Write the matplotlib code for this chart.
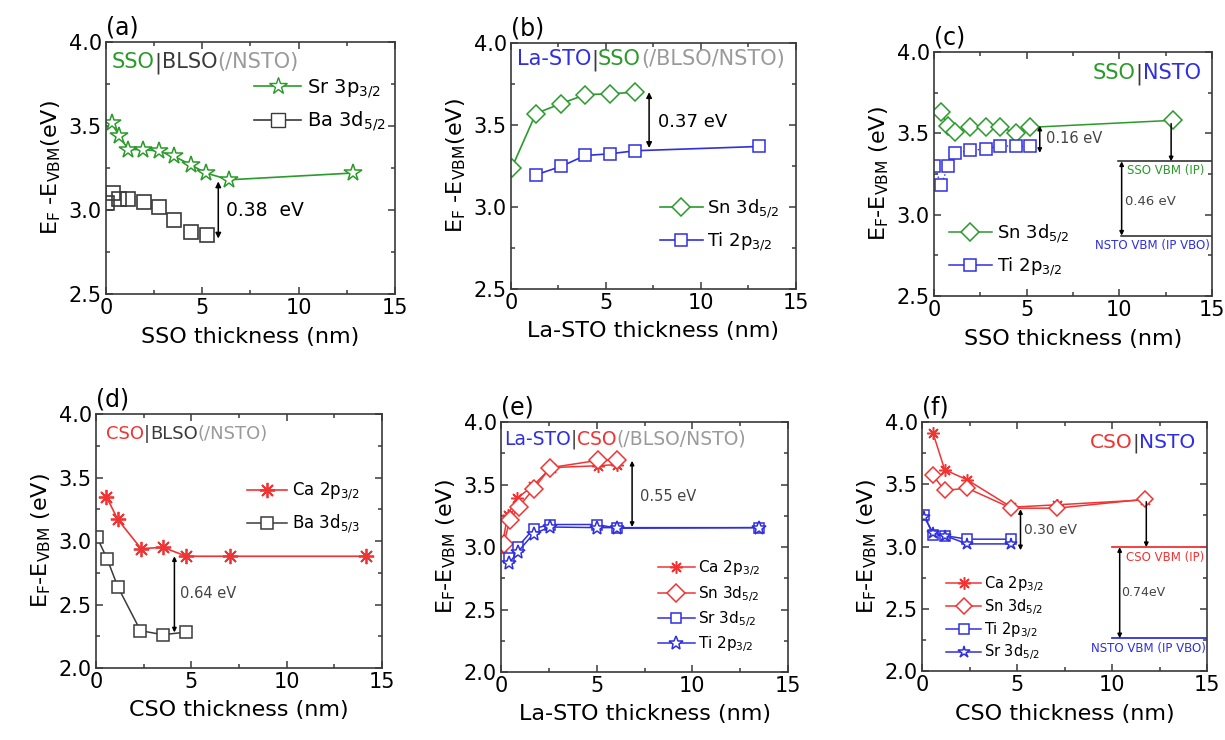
import matplotlib
matplotlib.use("Agg")
import matplotlib.pyplot as plt
from matplotlib.lines import Line2D
from matplotlib.offsetbox import TextArea, HPacker, AnchoredOffsetbox

plt.rcParams['font.family'] = 'DejaVu Sans'
plt.rcParams['mathtext.default'] = 'regular'

GREEN = '#2a9a2a'
BLUE = '#2f2fe0'
RED = '#f03434'
GRAY = '#9a9a9a'
DARK = '#3a3a3a'

# (a) SSO|BLSO(/NSTO)
a_x_sr = [0.29, 0.69, 1.16, 1.94, 2.77, 3.53, 4.39, 5.19, 6.40, 12.8]
a_y_sr = [3.52, 3.44, 3.36, 3.36, 3.35, 3.32, 3.27, 3.22, 3.18, 3.22]
a_x_ba = [0.05, 0.38, 0.69, 1.16, 1.97, 2.77, 3.53, 4.39, 5.22]
a_y_ba = [3.04, 3.10, 3.065, 3.065, 3.045, 3.02, 2.94, 2.87, 2.85]

# (b) La-STO|SSO(/BLSO/NSTO)
b_x_sn = [0.05, 1.31, 2.63, 3.91, 5.19, 6.55]
b_y_sn = [3.24, 3.57, 3.63, 3.685, 3.69, 3.70]
b_x_ti = [1.31, 2.63, 3.91, 5.19, 6.55, 13.07]
b_y_ti = [3.196, 3.247, 3.314, 3.324, 3.343, 3.369]

# (c) SSO|NSTO
c_x_sn = [0.36, 0.76, 1.15, 1.97, 2.79, 3.59, 4.42, 5.21, 12.89]
c_y_sn = [3.63, 3.547, 3.506, 3.537, 3.537, 3.537, 3.502, 3.537, 3.58]
c_x_ti = [0.0, 0.4, 0.76, 1.15, 1.97, 2.79, 3.59, 4.42, 5.21]
c_y_ti = [3.297, 3.184, 3.30, 3.379, 3.395, 3.404, 3.424, 3.42, 3.42]
c_vbm_sso = 3.328
c_vbm_nsto = 2.871

# (d) CSO|BLSO(/NSTO)
d_x_ca = [0.54, 1.14, 2.36, 3.51, 4.74, 7.01, 14.18]
d_y_ca = [3.35, 3.17, 2.94, 2.95, 2.88, 2.88, 2.88]
d_x_ba = [0.05, 0.58, 1.14, 2.33, 3.51, 4.74]
d_y_ba = [3.03, 2.86, 2.64, 2.294, 2.262, 2.283]

# (e) La-STO|CSO(/BLSO/NSTO)
e_x_ca = [0.05, 0.35, 0.84, 1.67, 2.61, 5.05, 6.06]
e_y_ca = [3.00, 3.26, 3.39, 3.49, 3.635, 3.65, 3.66]
e_x_sn = [0.14, 0.45, 0.92, 1.71, 2.58, 5.05, 6.06]
e_y_sn = [3.021, 3.213, 3.32, 3.467, 3.635, 3.693, 3.693]
e_x_sr = [0.42, 0.87, 1.71, 2.58, 5.02, 6.06, 13.5]
e_y_sr = [2.91, 3.00, 3.147, 3.18, 3.18, 3.15, 3.155]
e_x_ti = [0.42, 0.87, 1.71, 2.58, 5.02, 6.06, 13.5]
e_y_ti = [2.87, 2.96, 3.107, 3.16, 3.155, 3.155, 3.155]

# (f) CSO|NSTO
f_x = [0.58, 1.19, 2.37, 4.70, 7.09, 11.75]
f_y_ca = [3.91, 3.617, 3.536, 3.316, 3.335, 3.375]
f_y_sn = [3.571, 3.45, 3.469, 3.308, 3.308, 3.38]
f_x_ti = [0.09, 0.58, 1.19, 2.37, 4.70]
f_y_ti = [3.255, 3.094, 3.088, 3.059, 3.059]
f_x_sr = [0.12, 0.58, 1.19, 2.37, 4.70]
f_y_sr = [3.24, 3.107, 3.088, 3.021, 3.021]
f_vbm_cso = 2.995
f_vbm_nsto = 2.263

YLAB1 = r'E$_F$ -E$_{VBM}$(eV)'
YLAB2 = r'E$_F$-E$_{VBM}$ (eV)'

fig = plt.figure(figsize=(12.25, 7.4), dpi=100)


def setup(rect, ylim, yticks, xlabel, ylabel, tag):
    ax = fig.add_axes(rect)
    ax.set_xlim(0, 15)
    ax.set_ylim(*ylim)
    ax.set_xticks([0, 5, 10, 15])
    ax.set_xticks([2.5, 7.5, 12.5], minor=True)
    ax.set_yticks(yticks)
    ax.set_yticklabels(['%.1f' % v for v in yticks])
    ax.set_yticks([v + 0.25 for v in yticks[:-1]], minor=True)
    ax.tick_params(which='both', direction='in', top=True, right=True,
                   labelsize=15, width=1.1, color=DARK, pad=3)
    ax.tick_params(which='major', length=5)
    ax.tick_params(which='minor', length=3)
    for s in ax.spines.values():
        s.set_linewidth(1.2)
        s.set_color(DARK)
    ax.set_xlabel(xlabel, fontsize=16, labelpad=6)
    ax.set_ylabel(ylabel, fontsize=16, labelpad=4)
    ax.text(0.0, 1.01, tag, transform=ax.transAxes, fontsize=17,
            ha='left', va='bottom')
    return ax


def header(ax, parts, loc, anchor, size=14):
    boxes = [TextArea(t, textprops=dict(color=c, fontsize=size)) for t, c in parts]
    pack = HPacker(children=boxes, align='baseline', pad=0, sep=0)
    box = AnchoredOffsetbox(loc=loc, child=pack, pad=0, borderpad=0,
                            frameon=False, bbox_to_anchor=anchor,
                            bbox_transform=ax.transAxes)
    ax.add_artist(box)


def darrow(ax, x, y0, y1, style='<|-|>', ms=8):
    ax.annotate('', xy=(x, y1), xytext=(x, y0),
                arrowprops=dict(arrowstyle=style, color='k', lw=1.1,
                                mutation_scale=ms, shrinkA=0, shrinkB=0))


# ---- (a)
ax = setup([0.0865, 0.6027, 0.2359, 0.3405], (2.5, 4.0), [2.5, 3.0, 3.5, 4.0],
           'SSO thickness (nm)', YLAB1, '(a)')
ax.plot(a_x_sr, a_y_sr, '-', color=GREEN, lw=1.2, marker='*', ms=13,
        mfc='white', mec=GREEN, mew=1.1)
ax.plot(a_x_ba, a_y_ba, 's', ls='none', ms=10.5, mfc='none', mec=DARK, mew=1.2)
h = [Line2D([], [], color=GREEN, lw=1.2, marker='*', ms=13, mfc='white', mec=GREEN),
     Line2D([], [], color=DARK, lw=1.2, marker='s', ms=10, mfc='white', mec=DARK)]
ax.legend(h, ['Sr 3p$_{3/2}$', 'Ba 3d$_{5/2}$'], loc='upper left',
          bbox_to_anchor=(0.48, 0.90), frameon=False, fontsize=14,
          handlelength=2.4, handletextpad=0.3, labelspacing=0.5, borderpad=0)
header(ax, [('SSO', GREEN), ('|', DARK), ('BLSO', DARK), ('(/NSTO)', GRAY)],
       'upper left', (0.02, 0.96), 15)
darrow(ax, 5.83, 2.83, 3.17)
ax.text(6.25, 3.0, '0.38  eV', fontsize=13.5, va='center')

# ---- (b)
ax = setup([0.4171, 0.6095, 0.2327, 0.3324], (2.5, 4.0), [2.5, 3.0, 3.5, 4.0],
           'La-STO thickness (nm)', YLAB1, '(b)')
ax.plot(b_x_sn, b_y_sn, '-', color=GREEN, lw=1.2, marker='D', ms=9,
        mfc='white', mec=GREEN, mew=1.1, label='Sn 3d$_{5/2}$')
ax.plot(b_x_ti, b_y_ti, '-', color=BLUE, lw=1.2, marker='s', ms=8,
        mfc='white', mec=BLUE, mew=1.1, label='Ti 2p$_{3/2}$')
ax.legend(loc='upper left', bbox_to_anchor=(0.49, 0.41), frameon=False,
          fontsize=13, handlelength=2.4, handletextpad=0.2, labelspacing=0.6,
          borderpad=0)
header(ax, [('La-STO', BLUE), ('|', DARK), ('SSO', GREEN), ('(/BLSO/NSTO)', GRAY)],
       'upper left', (0.02, 0.975), 15)
darrow(ax, 7.27, 3.36, 3.70)
ax.text(7.72, 3.52, '0.37 eV', fontsize=13, va='center')

# ---- (c)
ax = setup([0.7624, 0.6000, 0.2269, 0.3297], (2.5, 4.0), [2.5, 3.0, 3.5, 4.0],
           'SSO thickness (nm)', YLAB2, '(c)')
ax.plot(c_x_sn, c_y_sn, '-', color=GREEN, lw=1.1, marker='D', ms=9,
        mfc='white', mec=GREEN, mew=1.1, label='Sn 3d$_{5/2}$')
ax.plot(c_x_ti, c_y_ti, ':', color=BLUE, lw=1.0, marker='s', ms=9,
        mfc='white', mec=BLUE, mew=1.1)
ax.plot([], [], '-', color=BLUE, lw=1.1, marker='s', ms=8, mfc='white',
        mec=BLUE, mew=1.1, label='Ti 2p$_{3/2}$')
ax.legend(loc='upper left', bbox_to_anchor=(0.02, 0.34), frameon=False,
          fontsize=13, handlelength=2.4, handletextpad=0.3, labelspacing=0.6,
          borderpad=0)
header(ax, [('SSO', GREEN), ('|', DARK), ('NSTO', BLUE)], 'upper right',
        (0.96, 0.955), 15)
darrow(ax, 5.71, 3.38, 3.547, ms=6)
ax.text(6.05, 3.47, '0.16 eV', fontsize=10.5, va='center', color='#444444')
ax.plot([9.95, 15], [c_vbm_sso, c_vbm_sso], color='#222222', lw=1.1)
ax.plot([10.1, 15], [c_vbm_nsto, c_vbm_nsto], color='#222222', lw=1.1)
darrow(ax, 10.13, c_vbm_nsto, c_vbm_sso, ms=6)
darrow(ax, 12.8, c_y_sn[-1] - 0.02, c_vbm_sso, style='-|>', ms=6)
ax.text(10.4, 3.27, 'SSO VBM (IP)', fontsize=8.5, color=GREEN, va='center')
ax.text(10.3, 3.08, '0.46 eV', fontsize=9.5, color='#444444', va='center')
ax.text(8.7, 2.81, 'NSTO VBM (IP VBO)', fontsize=8.5, color=BLUE, va='center')

# ---- (d)
ax = setup([0.0784, 0.0973, 0.2335, 0.3432], (2.0, 4.0),
           [2.0, 2.5, 3.0, 3.5, 4.0], 'CSO thickness (nm)', YLAB2, '(d)')
ax.plot(d_x_ca, d_y_ca, '-', color=RED, lw=1.2, marker=(8, 2, 0), ms=11,
        mec=RED, mew=1.3, label='Ca 2p$_{3/2}$')
ax.plot(d_x_ba, d_y_ba, '-', color=DARK, lw=1.1, marker='s', ms=9,
        mfc='white', mec=DARK, mew=1.1, label='Ba 3d$_{5/3}$')
ax.legend(loc='upper left', bbox_to_anchor=(0.50, 0.77), frameon=False,
          fontsize=12, handlelength=2.4, handletextpad=0.3, labelspacing=0.6,
          borderpad=0)
header(ax, [('CSO', RED), ('|', DARK), ('BLSO', DARK), ('(/NSTO)', GRAY)],
       'upper left', (0.035, 0.955), 13)
darrow(ax, 4.11, 2.28, 2.88, ms=6)
ax.text(4.42, 2.585, '0.64 eV', fontsize=10.5, va='center', color='#444444')

# ---- (e)
ax = setup([0.4090, 0.0919, 0.2343, 0.3378], (2.0, 4.0),
           [2.0, 2.5, 3.0, 3.5, 4.0], 'La-STO thickness (nm)', YLAB2, '(e)')
ax.plot(e_x_ca, e_y_ca, '-', color=RED, lw=1.1, marker=(8, 2, 0), ms=9,
        mec=RED, mew=1.1, label='Ca 2p$_{3/2}$')
ax.plot(e_x_sn, e_y_sn, '-', color=RED, lw=1.1, marker='D', ms=9,
        mfc='white', mec=RED, mew=1.1, label='Sn 3d$_{5/2}$')
ax.plot(e_x_sr, e_y_sr, '-', color=BLUE, lw=1.1, marker='s', ms=7,
        mfc='white', mec=BLUE, mew=1.1, label='Sr 3d$_{5/2}$')
ax.plot(e_x_ti, e_y_ti, '-', color=BLUE, lw=1.1, marker='*', ms=10,
        mfc='white', mec=BLUE, mew=1.1, label='Ti 2p$_{3/2}$')
ax.legend(loc='upper left', bbox_to_anchor=(0.52, 0.485), frameon=False,
          fontsize=11, handlelength=2.4, handletextpad=0.2, labelspacing=0.35,
          borderpad=0)
header(ax, [('La-STO', BLUE), ('|', DARK), ('CSO', RED), ('(/BLSO/NSTO)', GRAY)],
       'upper left', (0.01, 0.97), 13.5)
darrow(ax, 6.85, 3.16, 3.69, ms=6)
ax.text(7.25, 3.405, '0.55 eV', fontsize=10.5, va='center', color='#444444')

# ---- (f)
ax = setup([0.7527, 0.0932, 0.2327, 0.3365], (2.0, 4.0),
           [2.0, 2.5, 3.0, 3.5, 4.0], 'CSO thickness (nm)', YLAB2, '(f)')
ax.plot(f_x, f_y_ca, '-', color=RED, lw=1.1, marker=(8, 2, 0), ms=9,
        mec=RED, mew=1.1, label='Ca 2p$_{3/2}$')
ax.plot(f_x, f_y_sn, '-', color=RED, lw=1.1, marker='D', ms=8,
        mfc='white', mec=RED, mew=1.1, label='Sn 3d$_{5/2}$')
ax.plot(f_x_ti, f_y_ti, '-', color=BLUE, lw=1.1, marker='s', ms=7,
        mfc='white', mec=BLUE, mew=1.1, label='Ti 2p$_{3/2}$')
ax.plot(f_x_sr, f_y_sr, '-', color=BLUE, lw=1.1, marker='*', ms=9,
        mfc='white', mec=BLUE, mew=1.1, label='Sr 3d$_{5/2}$')
ax.legend(loc='upper left', bbox_to_anchor=(0.06, 0.42), frameon=False,
          fontsize=10.5, handlelength=2.4, handletextpad=0.2, labelspacing=0.2,
          borderpad=0)
header(ax, [('CSO', RED), ('|', DARK), ('NSTO', BLUE)], 'upper right',
       (0.96, 0.955), 14.5)
darrow(ax, 5.18, 2.97, 3.30, ms=6)
ax.text(5.38, 3.134, '0.30 eV', fontsize=10, va='center', color='#444444')
ax.plot([10, 15], [f_vbm_cso, f_vbm_cso], color=RED, lw=1.3)
ax.plot([10, 15], [f_vbm_nsto, f_vbm_nsto], color=BLUE, lw=1.3)
darrow(ax, 10.4, f_vbm_nsto, f_vbm_cso, ms=6)
darrow(ax, 11.8, f_y_sn[-1] - 0.02, f_vbm_cso, style='-|>', ms=6)
ax.text(10.75, 2.914, 'CSO VBM (IP)', fontsize=8.5, color=RED, va='center')
ax.text(10.5, 2.63, '0.74eV', fontsize=9, color='#444444', va='center')
ax.text(8.9, 2.18, 'NSTO VBM (IP VBO)', fontsize=8.5, color=BLUE, va='center')

fig.savefig('out.png', dpi=100)
